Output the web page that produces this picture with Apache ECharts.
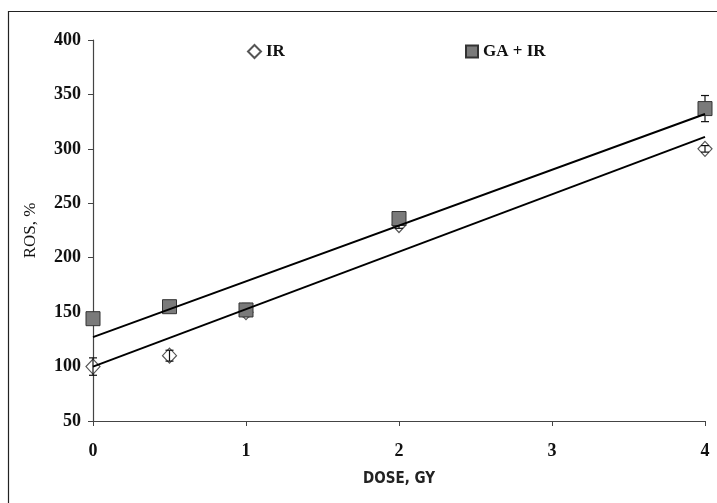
<!DOCTYPE html>
<html>
<head>
<meta charset="utf-8">
<script src="https://cdn.jsdelivr.net/npm/echarts@6/dist/echarts.min.js"></script>
<style>html,body{margin:0;padding:0;background:#fff;}#c{width:717px;height:503px;}</style>
</head>
<body>
<div id="c"></div>
<script>
// Data
var doses = [0, 0.5, 1, 2, 4];
var irValues = [100, 110, 150, 230, 300];
var irErrors = [8, 5, 4, 3, 3];
var gaValues = [144, 155, 152, 236, 337];
var gaErrors = [2, 5, 6, 5, 12];
// Trend line end points (value at dose 0 and dose 4)
var trendX = [0, 4];
var irTrend = [100, 311];
var gaTrend = [127, 332];
var yTicks = [50, 100, 150, 200, 250, 300, 350, 400];
var xTicks = [0, 1, 2, 3, 4];

var serif = '"Liberation Serif", "Times New Roman", serif';

function pts(xs, ys) { return xs.map(function (x, i) { return [x, ys[i]]; }); }
function errData(xs, ys, es) { return xs.map(function (x, i) { return [x, ys[i] - es[i], ys[i] + es[i]]; }); }

function errRender(params, api) {
  var x = api.value(0);
  var lo = api.coord([x, api.value(1)]);
  var hi = api.coord([x, api.value(2)]);
  var cap = 4;
  var st = { stroke: '#111', lineWidth: 1.2 };
  return {
    type: 'group',
    children: [
      { type: 'line', shape: { x1: lo[0], y1: lo[1], x2: hi[0], y2: hi[1] }, style: st },
      { type: 'line', shape: { x1: lo[0] - cap, y1: lo[1], x2: lo[0] + cap, y2: lo[1] }, style: st },
      { type: 'line', shape: { x1: hi[0] - cap, y1: hi[1], x2: hi[0] + cap, y2: hi[1] }, style: st }
    ]
  };
}

var chart = echarts.init(document.getElementById('c'), null, { renderer: 'canvas' });
chart.setOption({
  animation: false,
  backgroundColor: '#fff',
  graphic: [{
    type: 'rect', shape: { x: 8.5, y: 11.5, width: 730, height: 520 },
    style: { fill: 'none', stroke: '#222', lineWidth: 1.2 }, silent: true, z: -1
  }],
  grid: { left: 93, right: 12, top: 40, bottom: 82, containLabel: false },
  legend: [
    { data: [{ name: 'IR', icon: 'diamond' }], left: 242, top: 38, itemWidth: 13, itemHeight: 13, itemGap: 4,
      textStyle: { fontFamily: serif, fontWeight: 'bold', fontSize: 17, color: '#111' } },
    { data: [{ name: 'GA + IR', icon: 'rect' }], left: 460, top: 38, itemWidth: 12, itemHeight: 12, itemGap: 4,
      textStyle: { fontFamily: serif, fontWeight: 'bold', fontSize: 17, color: '#111' } }
  ],
  xAxis: {
    type: 'value', min: 0, max: 4, interval: 1,
    name: 'DOSE, GY', nameLocation: 'middle', nameGap: 51,
    nameTextStyle: { fontFamily: '"DejaVu Sans Condensed", "DejaVu Sans", sans-serif', fontWeight: 'bold', fontSize: 15, color: '#222' },
    axisLine: { show: true, lineStyle: { color: '#444', width: 1.2 } },
    axisTick: { show: true, inside: false, length: 5, lineStyle: { color: '#444' } },
    axisLabel: { margin: 21, fontFamily: serif, fontWeight: 'bold', fontSize: 18, color: '#111' },
    splitLine: { show: false }
  },
  yAxis: {
    type: 'value', min: 50, max: 400, interval: 50,
    name: 'ROS, %', nameLocation: 'middle', nameGap: 54, nameRotate: 90,
    nameTextStyle: { fontFamily: serif, fontSize: 17, color: '#111' },
    axisLine: { show: true, onZero: false, lineStyle: { color: '#444', width: 1.2 } },
    axisTick: { show: true, inside: false, length: 5, lineStyle: { color: '#444' } },
    axisLabel: { margin: 12, fontFamily: serif, fontWeight: 'bold', fontSize: 18, color: '#111' },
    splitLine: { show: false }
  },
  series: [
    { name: 'gaErr', type: 'custom', renderItem: errRender, data: errData(doses, gaValues, gaErrors), z: 1 },
    { name: 'IR', type: 'scatter', data: pts(doses, irValues), symbol: 'diamond', symbolSize: [14, 15],
      itemStyle: { color: '#fff', borderColor: '#555', borderWidth: 1.2, opacity: 1 }, z: 2 },
    { name: 'irErr', type: 'custom', renderItem: errRender, data: errData(doses, irValues, irErrors), z: 3 },
    { name: 'GA + IR', type: 'scatter', data: pts(doses, gaValues), symbol: 'rect', symbolSize: 14,
      itemStyle: { color: '#7a7a7a', borderColor: '#333', borderWidth: 1, opacity: 1 }, z: 4 },
    { name: 'irTrend', type: 'line', data: pts(trendX, irTrend), symbol: 'none',
      lineStyle: { color: '#000', width: 2 }, z: 5 },
    { name: 'gaTrend', type: 'line', data: pts(trendX, gaTrend), symbol: 'none',
      lineStyle: { color: '#000', width: 2 }, z: 5 }
  ]
});
</script>
</body>
</html>
